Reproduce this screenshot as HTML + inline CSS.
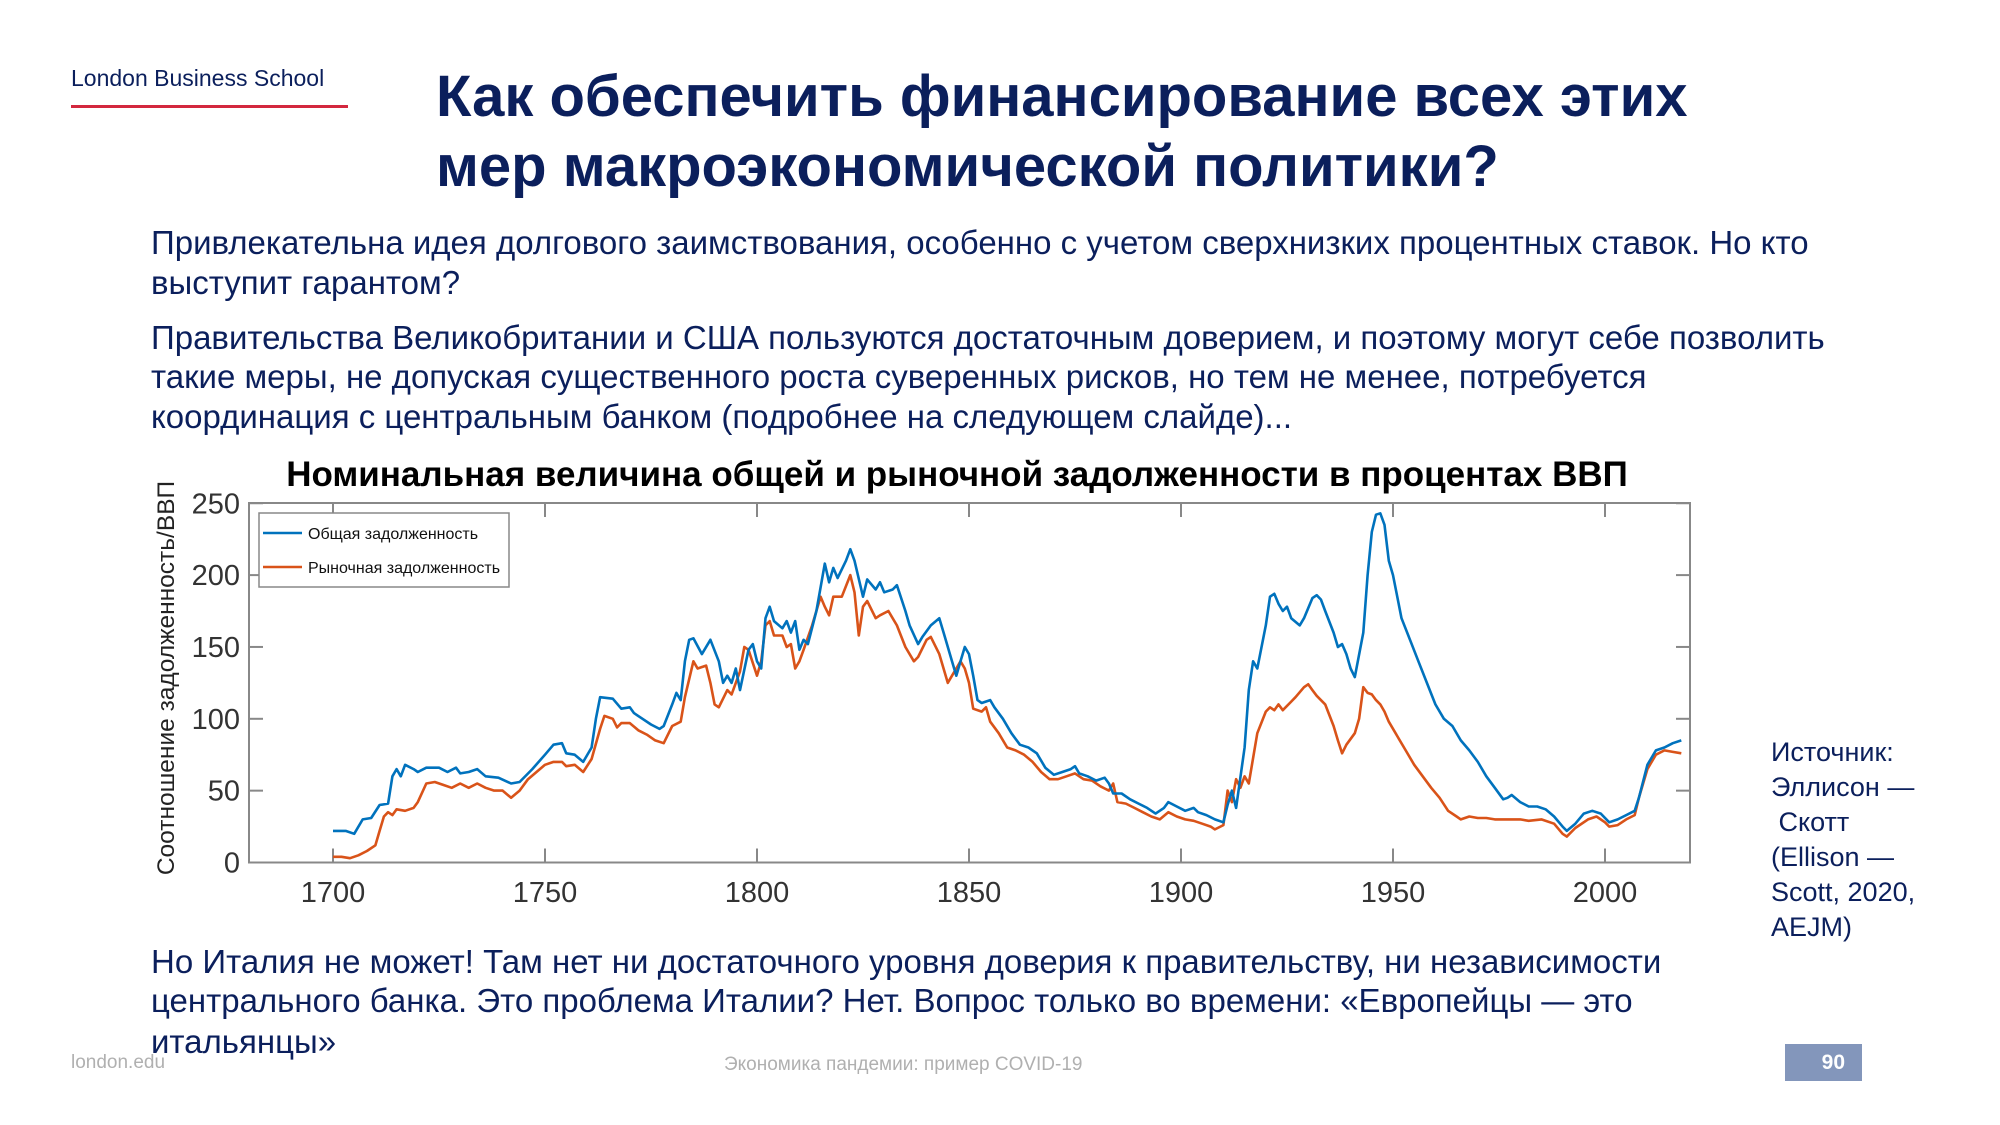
<!DOCTYPE html>
<html><head><meta charset="utf-8"><style>
body{margin:0;width:2000px;height:1125px;background:#fff;position:relative;overflow:hidden;font-family:"Liberation Sans","Noto Sans CJK SC",sans-serif;}
.a{position:absolute;white-space:nowrap;}
.t{color:#0b1f5c;font-weight:bold;font-size:58px;left:436px;}
.p{color:#0b1f5c;font-size:33px;left:151px;}
</style></head><body>
<div class="a" style="left:71px;top:65px;font-size:23px;color:#0b1f5c;">London Business School</div>
<div class="a" style="left:71px;top:105px;width:277px;height:3px;background:#d3273e;"></div>
<div class="a t" style="top:63px;">Как обеспечить финансирование всех этих</div>
<div class="a t" style="top:133px;">мер макроэкономической политики?</div>
<div class="a p" style="top:224px;">Привлекательна идея долгового заимствования, особенно с учетом сверхнизких процентных ставок. Но кто</div>
<div class="a p" style="top:264px;">выступит гарантом?</div>
<div class="a p" style="top:319px;">Правительства Великобритании и США пользуются достаточным доверием, и поэтому могут себе позволить</div>
<div class="a p" style="top:358px;">такие меры, не допуская существенного роста суверенных рисков, но тем не менее, потребуется</div>
<div class="a p" style="top:398px;">координация с центральным банком (подробнее на следующем слайде)...</div>
<div class="a p" style="top:943px;">Но Италия не может! Там нет ни достаточного уровня доверия к правительству, ни независимости</div>
<div class="a p" style="top:982px;">центрального банка. Это проблема Италии? Нет. Вопрос только во времени: «Европейцы — это</div>
<div class="a p" style="top:1023px;">итальянцы»</div>
<div class="a" style="left:1771px;top:735px;font-size:27px;line-height:35px;color:#0b1f5c;white-space:pre;">Источник:
Эллисон —
 Скотт
(Ellison —
Scott, 2020,
AEJM)</div>
<div class="a" style="left:71px;top:1052px;font-size:19px;color:#b0b0b0;">london.edu</div>
<div class="a" style="left:724px;top:1054px;font-size:19px;color:#b0b0b0;">Экономика пандемии: пример COVID-19</div>
<div class="a" style="left:1785px;top:1044px;width:77px;height:37px;background:#8396bb;color:#fff;font-weight:bold;font-size:21px;line-height:37px;text-align:right;box-sizing:border-box;padding-right:17px;">90</div>
<svg class="a" style="left:0;top:0" width="2000" height="1125" id="s">
<text x="957" y="486" text-anchor="middle" font-size="35" font-weight="bold" fill="#000" font-family="Liberation Sans">Номинальная величина общей и рыночной задолженности в процентах ВВП</text>
<text transform="translate(174,678) rotate(-90)" text-anchor="middle" font-size="24.5" fill="#222" font-family="Liberation Sans">Соотношение задолженность/ВВП</text>
<g id="ax"></g>
</svg>
<script>
var L=249,R=1690,T=503,B=862.5;
function X(y){return 333+(y-1700)*4.24;}function Y(v){return B-v*1.437;}
var g='<rect x="'+L+'" y="'+T+'" width="'+(R-L)+'" height="'+(B-T)+'" fill="none" stroke="#888" stroke-width="2"/>';
for(var v=0;v<=250;v+=50){var y=Y(v);g+='<line x1="'+L+'" x2="'+(L+14)+'" y1="'+y+'" y2="'+y+'" stroke="#888" stroke-width="2"/><line x1="'+(R-14)+'" x2="'+R+'" y1="'+y+'" y2="'+y+'" stroke="#888" stroke-width="2"/><text x="240" y="'+(y+10)+'" text-anchor="end" font-size="29" fill="#333" font-family="Liberation Sans">'+v+'</text>';}
for(var yr=1700;yr<=2000;yr+=50){var x=X(yr);g+='<line x1="'+x+'" x2="'+x+'" y1="'+B+'" y2="'+(B-14)+'" stroke="#888" stroke-width="2"/><line x1="'+x+'" x2="'+x+'" y1="'+T+'" y2="'+(T+14)+'" stroke="#888" stroke-width="2"/><text x="'+x+'" y="902" text-anchor="middle" font-size="29" fill="#333" font-family="Liberation Sans">'+yr+'</text>';}
var b=[1700,22,1703,22,1705,20,1707,30,1709,31,1711,40,1713,41,1714,60,1715,65,1716,60,1717,68,1719,65,1720,63,1722,66,1725,66,1727,63,1729,66,1730,62,1732,63,1734,65,1736,60,1739,59,1742,55,1744,56,1747,65,1750,75,1752,82,1754,83,1755,76,1757,75,1759,70,1761,80,1762,100,1763,115,1766,114,1768,107,1770,108,1771,104,1773,100,1775,96,1777,93,1778,95,1780,110,1781,118,1782,113,1783,140,1784,155,1785,156,1787,145,1789,155,1791,140,1792,125,1793,130,1794,125,1795,135,1796,120,1798,148,1799,152,1800,140,1801,135,1802,170,1803,178,1804,168,1806,163,1807,168,1808,160,1809,168,1810,148,1811,155,1812,152,1814,175,1816,208,1817,195,1818,205,1819,198,1821,210,1822,218,1823,210,1825,185,1826,197,1828,190,1829,195,1830,188,1832,190,1833,193,1835,175,1836,165,1838,152,1839,157,1841,165,1843,170,1844,160,1846,140,1847,130,1848,140,1849,150,1850,145,1851,130,1852,113,1853,111,1855,113,1856,108,1858,100,1860,90,1862,82,1864,80,1866,76,1868,66,1870,61,1872,63,1874,65,1875,67,1876,62,1878,60,1880,57,1882,59,1883,55,1884,48,1886,48,1888,44,1890,41,1892,38,1894,34,1896,38,1897,42,1899,39,1901,36,1903,38,1904,35,1906,33,1908,30,1910,28,1911,40,1912,50,1913,38,1915,80,1916,120,1917,140,1918,135,1920,165,1921,185,1922,187,1923,180,1924,175,1925,178,1926,170,1928,165,1929,170,1931,184,1932,186,1933,183,1934,175,1936,160,1937,150,1938,152,1939,145,1940,135,1941,129,1943,160,1944,200,1945,230,1946,242,1947,243,1948,235,1949,210,1950,200,1952,170,1954,155,1956,140,1958,125,1960,110,1962,100,1964,95,1966,85,1968,78,1970,70,1972,60,1974,52,1976,44,1977,45,1978,47,1980,42,1982,39,1984,39,1986,37,1988,32,1990,25,1991,22,1993,27,1995,34,1997,36,1999,34,2001,28,2003,30,2005,33,2007,36,2008,45,2010,68,2012,78,2014,80,2016,83,2018,85];
var r=[1700,4,1702,4,1704,3,1706,5,1708,8,1710,12,1711,22,1712,32,1713,35,1714,33,1715,37,1717,36,1719,38,1720,42,1722,55,1724,56,1726,54,1728,52,1730,55,1732,52,1734,55,1736,52,1738,50,1740,50,1742,45,1744,50,1746,58,1748,63,1750,68,1752,70,1754,70,1755,67,1757,68,1759,63,1761,72,1763,93,1764,102,1766,100,1767,94,1768,97,1770,97,1772,92,1774,89,1776,85,1778,83,1780,95,1782,98,1783,115,1785,140,1786,135,1788,137,1789,125,1790,110,1791,108,1793,120,1794,117,1796,133,1797,150,1798,148,1800,130,1801,140,1802,165,1803,168,1804,158,1806,158,1807,150,1808,152,1809,135,1810,140,1811,148,1813,165,1815,185,1816,178,1817,172,1818,185,1820,185,1822,200,1823,188,1824,158,1825,178,1826,182,1828,170,1829,172,1831,175,1833,165,1835,150,1837,140,1838,143,1840,155,1841,157,1843,145,1845,125,1846,130,1847,135,1848,140,1849,135,1850,125,1851,107,1853,105,1854,108,1855,98,1857,90,1859,80,1861,78,1863,75,1865,70,1867,63,1869,58,1871,58,1873,60,1875,62,1877,58,1879,57,1881,53,1883,50,1884,55,1885,42,1887,41,1889,38,1891,35,1893,32,1895,30,1897,35,1899,32,1901,30,1903,29,1905,27,1907,25,1908,23,1910,26,1911,50,1912,42,1913,58,1914,52,1915,60,1916,55,1918,90,1920,105,1921,108,1922,106,1923,110,1924,106,1926,112,1927,115,1929,122,1930,124,1931,120,1932,116,1934,110,1936,95,1937,85,1938,76,1939,82,1941,90,1942,100,1943,122,1944,118,1945,117,1946,113,1947,110,1948,105,1949,98,1951,88,1953,78,1955,68,1957,60,1959,52,1961,45,1963,36,1965,32,1966,30,1968,32,1970,31,1972,31,1974,30,1976,30,1978,30,1980,30,1982,29,1985,30,1988,27,1990,20,1991,18,1993,24,1996,30,1998,32,2000,28,2001,25,2003,26,2005,30,2007,33,2008,45,2010,65,2012,75,2014,78,2016,77,2018,76];
function pl(a,c){var s='';for(var i=0;i<a.length;i+=2)s+=X(a[i]).toFixed(1)+','+Y(a[i+1]).toFixed(1)+' ';return '<polyline points="'+s+'" fill="none" stroke="'+c+'" stroke-width="2.6" stroke-linejoin="round"/>';}
g+=pl(r,'#d95319')+pl(b,'#0072bd');
g+='<rect x="259" y="513" width="250" height="74" fill="#fff" stroke="#888" stroke-width="1.5"/>';
g+='<line x1="263" x2="302" y1="533" y2="533" stroke="#0072bd" stroke-width="2.6"/><text x="308" y="539" font-size="16" fill="#111" font-family="Liberation Sans">Общая задолженность</text>';
g+='<line x1="263" x2="302" y1="567" y2="567" stroke="#d95319" stroke-width="2.6"/><text x="308" y="573" font-size="16" fill="#111" font-family="Liberation Sans">Рыночная задолженность</text>';
document.getElementById('ax').innerHTML=g;
</script>
</body></html>
